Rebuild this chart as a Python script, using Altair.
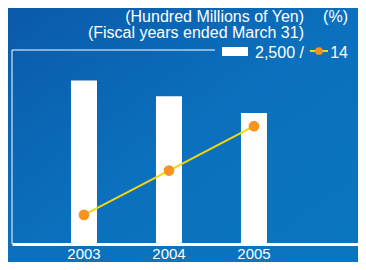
import altair as alt
import pandas as pd

years = [2003, 2004, 2005]
sales = [2107, 1904, 1688]          # hundred millions of yen
ratio = [2.1, 5.3, 8.5]             # %
tick_labels = [2003, 2004, 2005]
unit_left = "(Hundred Millions of Yen)"
unit_right = "(%)"
period = "(Fiscal years ended March 31)"
legend_bar = "2,500 /"
legend_line = "14"

df = pd.DataFrame({"year": years, "sales": sales, "ratio": ratio})
labels_df = pd.DataFrame({"year": tick_labels, "label": [str(v) for v in tick_labels]})

W, H = 346, 194
FONT = "Liberation Sans"
xscale = alt.Scale(domain=[2002.153, 2006.224], zero=False, nice=False, padding=0)
one = alt.Data(values=[{}])

bg = alt.Chart(one).mark_rect(
    fill={"gradient": "linear", "x1": 0, "y1": 0, "x2": 1, "y2": 1,
          "stops": [{"offset": 0, "color": "#0a5aa9"},
                    {"offset": 0.5, "color": "#0b70bd"},
                    {"offset": 1, "color": "#0a76c0"}]}
).encode(x=alt.value(-4), x2=alt.value(346), y=alt.value(-42), y2=alt.value(212))

top_rule = alt.Chart(one).mark_rule(color="white", strokeWidth=1).encode(
    x=alt.value(0), x2=alt.value(203), y=alt.value(0))
left_rule = alt.Chart(one).mark_rule(color="white", strokeWidth=1).encode(
    x=alt.value(0), y=alt.value(0), y2=alt.value(H))

bars = alt.Chart(df).mark_bar(color="white", size=26).encode(
    x=alt.X("year:Q", scale=xscale,
            axis=alt.Axis(values=tick_labels, title=None, ticks=False, labels=False,
                          grid=False, domainColor="white", domainWidth=3, zindex=1)),
    y=alt.Y("sales:Q", scale=alt.Scale(domain=[0, 2500], nice=False), axis=None),
)

xlabels = alt.Chart(labels_df).mark_text(
    color="white", font=FONT, fontSize=15, align="center", baseline="alphabetic"
).encode(x=alt.X("year:Q", scale=xscale), text="label:N", y=alt.value(208.5))

line = alt.Chart(df).mark_line(color="#f5d60a", strokeWidth=2).encode(
    x=alt.X("year:Q", scale=xscale),
    y=alt.Y("ratio:Q", scale=alt.Scale(domain=[0, 14], nice=False), axis=None),
)
pts = alt.Chart(df).mark_point(filled=True, color="#f7931e", size=115, opacity=1).encode(
    x=alt.X("year:Q", scale=xscale),
    y=alt.Y("ratio:Q", scale=alt.Scale(domain=[0, 14], nice=False), axis=None),
)

def txt(s, x, y, align):
    return alt.Chart(alt.Data(values=[{"t": s}])).mark_text(
        color="white", font=FONT, fontSize=16, align=align, baseline="alphabetic"
    ).encode(text="t:N", x=alt.value(x), y=alt.value(y))

t1 = txt(unit_left, 292, -28, "right")
t2 = txt(unit_right, 336, -28, "right")
t3 = txt(period, 292, -12, "right")
t4 = txt(legend_bar, 243, 8, "left")
t5 = txt(legend_line, 336, 8, "right")

leg_rect = alt.Chart(one).mark_rect(color="white").encode(
    x=alt.value(210), x2=alt.value(236), y=alt.value(-3), y2=alt.value(6))
leg_line = alt.Chart(one).mark_rule(color="#f5d60a", strokeWidth=2).encode(
    x=alt.value(298), x2=alt.value(316), y=alt.value(1))
leg_dot = alt.Chart(one).mark_point(filled=True, color="#f7931e", size=60, opacity=1).encode(
    x=alt.value(307), y=alt.value(1))

chart = alt.layer(
    bg, top_rule, left_rule, bars, xlabels, line, pts, t1, t2, t3, t4, t5,
    leg_rect, leg_line, leg_dot
).resolve_scale(y="independent").properties(
    width=W, height=H,
    autosize=alt.AutoSizeParams(type="none"),
    padding={"left": 4, "top": 42, "right": 0, "bottom": 18},
    background="#0a66b2",
).configure_view(stroke=None)

chart.save("out.html", embed_options={"renderer": "svg", "actions": False})
